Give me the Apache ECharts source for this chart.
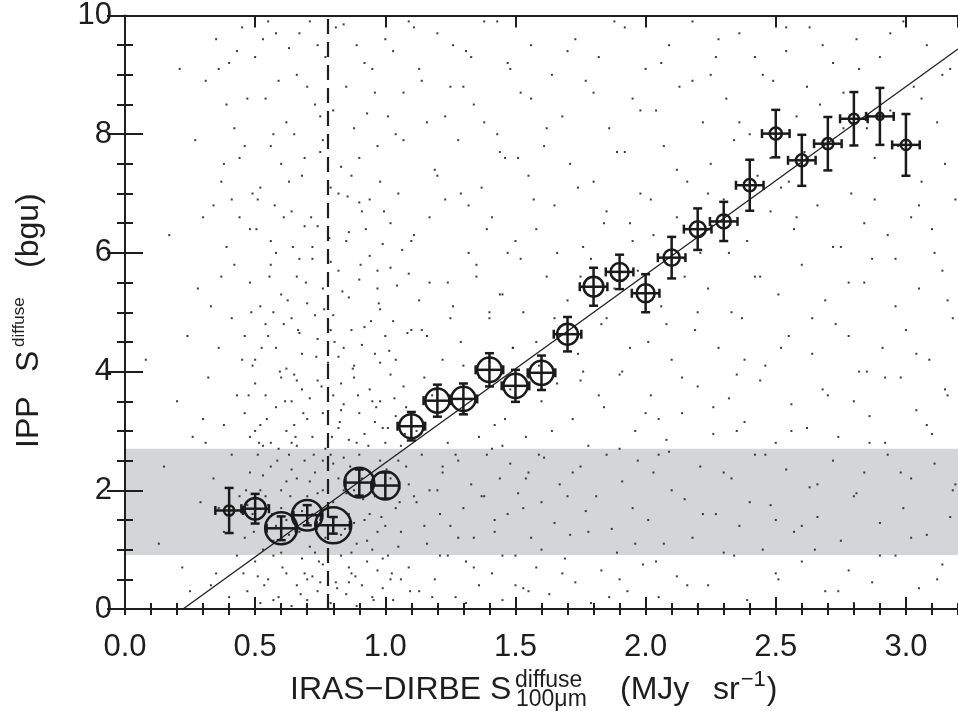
<!DOCTYPE html>
<html><head><meta charset="utf-8">
<script src="https://cdn.jsdelivr.net/npm/echarts@6/dist/echarts.min.js"></script>
<style>html,body{margin:0;padding:0;background:#fff}#c{width:958px;height:711px}</style>
</head><body><div id="c"></div>
<script>
// ---- binned points (x bin centre, mean IPP value, errors, relative weight of bin) ----
const binX = [0.4,0.5,0.6,0.7,0.8,0.9,1.0,1.1,1.2,1.3,1.4,1.5,1.6,1.7,1.8,1.9,2.0,2.1,2.2,2.3,2.4,2.5,2.6,2.7,2.8,2.9,3.0];
const binY = [1.66,1.69,1.36,1.58,1.41,2.13,2.08,3.08,3.51,3.54,4.03,3.76,3.98,4.63,5.43,5.68,5.32,5.92,6.40,6.53,7.14,8.01,7.56,7.84,8.26,8.30,7.82];
const binYErr = [0.38,0.25,0.20,0.17,0.14,0.22,0.22,0.24,0.27,0.26,0.28,0.27,0.29,0.29,0.32,0.29,0.32,0.35,0.35,0.33,0.43,0.40,0.43,0.45,0.45,0.48,0.52];
const binXErr = [0.053,0.053,0.056,0.053,0.064,0.053,0.053,0.053,0.053,0.053,0.053,0.053,0.053,0.053,0.053,0.053,0.053,0.053,0.053,0.053,0.053,0.053,0.053,0.053,0.053,0.053,0.053];
const binWeight = [0.28,0.6,0.89,0.85,1.0,0.83,0.78,0.67,0.67,0.67,0.68,0.67,0.67,0.58,0.55,0.5,0.5,0.45,0.44,0.39,0.34,0.34,0.33,0.31,0.28,0.2,0.28];

// ---- fit line, threshold, shaded band ----
const fitSlope = 3.17;
const fitIntercept = -0.707;
const threshX = 0.78;
const bandLow = 0.91;
const bandHigh = 2.70;

// ---- axis ticks ----
const xTicks = [0.0,0.5,1.0,1.5,2.0,2.5,3.0];
const yTicks = [0,2,4,6,8,10];

// ---- individual pixels (estimated positions of the background dots) ----
const bgDots = [
[0.08,4.2],[0.13,1.1],[0.17,6.3],[0.2,3.5],[0.22,0.7],[0.24,4.6],[0.26,2.9],[0.27,7.9],[0.28,5.4],[0.29,1.8],[0.21,9.1],[0.3,3.2],[0.15,2.4],[0.25,0.3],[0.3,6.6],
[0.31,8.9],[0.33,5.1],[0.34,2.2],[0.35,9.6],[0.35,0.6],[0.36,4.4],[0.37,7.2],[0.38,3.1],[0.38,1.3],[0.39,6.1],[0.4,9.2],[0.4,0.2],[0.41,4.9],[0.41,2.6],[0.42,8.1],[0.42,5.8],[0.43,3.6],[0.43,0.9],[0.44,7.6],[0.44,1.9],[0.45,9.8],[0.45,4.2],[0.32,3.9],[0.34,6.8],[0.36,1.7],[0.39,8.5],[0.37,5.6],[0.33,0.4],[0.44,6.6],[0.31,2.8],
[0.47,0.3],[0.5,0.8],[0.52,0.1],[0.55,0.5],[0.57,0.9],[0.59,0.2],[0.62,0.6],[0.64,0.05],[0.66,0.4],[0.68,0.85],[0.7,0.15],[0.72,0.55],[0.74,0.3],[0.76,0.75],[0.79,0.1],[0.81,0.45],[0.83,0.9],[0.85,0.25],[0.87,0.6],[0.89,0.05],[0.91,0.4],[0.93,0.8],[0.95,0.2],[0.97,0.65],[0.99,0.35],[1.01,0.9],[1.03,0.15],[0.6,0.95],[0.73,0.95],[0.86,0.7],
[0.46,1.2],[0.48,2.3],[0.49,1.6],[0.51,2.6],[0.53,1.0],[0.54,1.9],[0.56,2.4],[0.58,1.4],[0.6,2.0],[0.61,1.1],[0.63,2.6],[0.65,1.7],[0.66,2.2],[0.67,1.3],[0.69,2.5],[0.7,1.9],[0.71,1.05],[0.73,2.3],[0.75,1.5],[0.76,2.0],[0.77,1.2],[0.79,2.6],[0.8,1.8],[0.82,2.2],[0.83,1.25],[0.84,2.55],[0.86,1.6],[0.88,2.0],[0.89,1.1],[0.9,2.6],[0.92,1.5],[0.94,2.3],[0.95,1.0],[0.96,1.9],[0.98,2.5],[1.0,1.4],[1.02,2.2],[1.04,1.7],[0.52,2.0],[0.57,1.15],[0.62,1.5],[0.68,1.65],[0.74,1.95],[0.78,2.35],[0.85,1.95],[0.91,2.2],[0.97,1.3],[1.05,2.5],[0.55,1.75],[0.64,2.35],
[0.46,3.3],[0.48,2.9],[0.5,3.8],[0.52,3.1],[0.54,3.6],[0.56,2.8],[0.58,3.4],[0.6,3.9],[0.62,3.0],[0.64,3.5],[0.66,2.75],[0.68,3.7],[0.7,3.2],[0.72,2.9],[0.74,3.85],[0.76,3.3],[0.78,2.8],[0.8,3.6],[0.82,3.05],[0.84,3.45],[0.86,2.85],[0.88,3.9],[0.9,3.3],[0.92,2.95],[0.94,3.7],[0.96,3.15],[0.98,3.5],[1.0,2.8],[1.02,3.95],[1.04,3.25],[0.53,2.75],[0.65,3.95],[0.71,3.55],[0.83,3.8],[0.99,3.05],
[0.46,4.6],[0.48,5.5],[0.5,4.2],[0.52,5.1],[0.54,4.8],[0.56,5.8],[0.58,4.4],[0.6,5.3],[0.62,4.05],[0.64,4.9],[0.66,5.6],[0.68,4.3],[0.7,5.15],[0.72,5.9],[0.74,4.55],[0.76,5.4],[0.78,4.15],[0.8,4.95],[0.82,5.7],[0.84,4.4],[0.86,5.25],[0.88,4.1],[0.9,5.55],[0.92,4.75],[0.94,5.95],[0.96,4.3],[0.98,5.05],[1.0,4.6],[1.02,5.75],[1.04,4.2],[0.57,5.0],[0.67,4.65],[0.79,5.85],[0.87,4.7],[0.97,5.4],
[0.46,7.8],[0.48,6.4],[0.5,9.3],[0.52,7.1],[0.54,8.6],[0.56,6.2],[0.58,9.7],[0.6,7.5],[0.62,8.2],[0.64,6.7],[0.66,9.0],[0.68,7.3],[0.7,8.8],[0.72,6.1],[0.74,9.5],[0.76,7.9],[0.78,6.6],[0.8,8.4],[0.82,7.0],[0.84,9.85],[0.86,6.35],[0.88,8.1],[0.9,7.6],[0.92,9.2],[0.94,6.9],[0.96,8.7],[0.98,7.2],[1.0,9.6],[1.02,6.5],[1.04,8.0],[0.51,6.9],[0.55,9.9],[0.63,9.45],[0.69,6.45],[0.75,8.3],[0.83,7.45],[0.93,8.35],[0.99,6.15],[0.57,8.0],[0.71,9.9],
[1.06,0.5],[1.08,3.4],[1.1,6.2],[1.12,1.8],[1.14,8.9],[1.16,4.6],[1.18,0.2],[1.2,7.3],[1.22,2.4],[1.24,5.5],[1.26,9.5],[1.28,1.2],[1.3,4.1],[1.32,6.8],[1.34,0.7],[1.36,2.9],[1.38,8.2],[1.4,5.0],[1.42,1.5],[1.44,7.7],[1.46,3.2],[1.48,9.1],[1.5,0.4],[1.52,5.9],[1.54,2.2],[1.56,8.6],[1.58,4.5],[1.6,1.0],[1.07,7.9],[1.09,2.1],[1.11,9.8],[1.13,5.2],[1.15,1.4],[1.17,6.6],[1.19,3.7],[1.21,0.9],[1.23,8.3],[1.25,4.9],[1.27,2.6],[1.29,7.0],[1.31,0.1],[1.33,9.3],[1.35,5.6],[1.37,1.9],[1.39,6.4],[1.41,2.7],[1.43,9.9],[1.45,0.9],[1.47,6.0],[1.49,4.4],[1.51,7.6],[1.53,1.7],[1.55,3.9],[1.57,6.9],[1.59,2.6],[1.1,4.7],[1.2,2.0],[1.3,8.8],[1.45,5.3],[1.55,0.3],
[1.62,8.1],[1.64,3.0],[1.66,6.0],[1.68,0.6],[1.7,9.4],[1.72,2.3],[1.74,7.1],[1.76,4.0],[1.78,1.3],[1.8,8.7],[1.82,3.6],[1.84,6.5],[1.86,0.2],[1.88,9.9],[1.9,2.7],[1.92,7.7],[1.94,4.4],[1.96,1.1],[1.98,8.4],[2.0,3.3],[2.02,6.9],[2.04,0.8],[2.06,9.2],[2.08,4.8],[2.1,2.0],[2.12,7.4],[2.14,3.9],[2.16,0.4],[2.18,8.9],[2.2,5.0],[2.22,1.6],[2.24,7.0],[2.26,3.4],[2.28,9.6],[2.3,2.3],[2.32,6.0],[2.34,0.9],[2.36,8.2],[2.38,4.2],[2.4,1.8],[1.65,4.9],[1.75,5.6],[1.85,4.9],[1.95,6.2],[2.05,2.6],[2.15,5.6],[2.25,9.0],[2.35,3.0],[1.7,1.9],[1.9,0.5],
[2.42,9.3],[2.44,5.6],[2.46,2.6],[2.48,7.6],[2.5,0.6],[2.52,4.4],[2.54,9.8],[2.56,3.0],[2.58,6.6],[2.6,1.4],[2.62,8.8],[2.64,4.9],[2.66,2.1],[2.68,9.5],[2.7,3.6],[2.72,6.1],[2.74,0.3],[2.76,8.1],[2.78,4.6],[2.8,1.9],[2.82,9.1],[2.84,5.5],[2.86,2.8],[2.88,6.9],[2.9,0.9],[2.92,3.9],[2.94,9.7],[2.96,5.9],[2.98,2.3],[3.0,7.3],[3.02,1.2],[3.04,4.3],[3.06,8.6],[3.08,3.1],[3.1,6.4],[3.12,0.5],[3.14,9.0],[3.16,5.2],[3.18,2.0],[3.05,6.8],[2.55,7.2],[2.65,1.0],[2.85,4.0],[2.95,8.3],[3.15,3.7],
[1.11,6.3],[1.13,9.1],[1.14,4.7],[1.16,8.2],[1.17,5.5],[1.19,7.4],[1.2,9.7],[1.22,4.2],[1.23,6.9],[1.25,8.8],[1.26,5.1],[1.28,7.9],[1.29,4.5],[1.31,9.4],[1.32,6.0],[1.34,8.5],[1.35,5.8],[1.37,7.1],[1.38,9.9],[1.4,4.9],[1.41,6.6],[1.43,8.0],[1.44,5.3],[1.46,7.6],[1.47,9.2],[1.49,4.4],[1.5,6.2],[1.52,8.7],[1.53,5.0],[1.55,7.3],
[1.56,9.5],[1.58,6.4],[1.59,4.1],[1.61,7.8],[1.62,5.6],[1.64,9.0],[1.65,6.8],[1.67,4.6],[1.68,8.3],[1.7,5.2],[1.71,7.5],[1.73,9.6],[1.74,4.3],[1.76,6.1],[1.77,8.9],[1.79,5.9],[1.8,7.2],[1.82,9.3],[1.83,4.8],[1.85,6.7],[1.86,8.1],[1.88,5.4],[1.89,7.7],[1.91,4.0],[1.92,9.8],[1.94,6.5],[1.95,8.6],[1.97,5.7],[1.98,7.0],[2.0,9.1],
[2.01,4.5],[2.03,6.3],[2.04,8.4],[2.06,5.1],[2.07,7.8],[2.09,9.5],[2.1,4.2],[2.12,6.6],[2.13,8.8],[2.15,5.9],[2.16,7.2],[2.18,9.9],[2.19,4.7],[2.21,6.0],[2.22,8.2],[2.24,5.4],[2.25,7.5],[2.27,9.3],[2.28,4.4],[2.3,6.9],[2.31,8.6],[2.33,5.0],[2.34,7.9],[2.36,9.7],[2.37,4.9],[2.39,6.2],[2.4,8.0],[2.42,5.6],[2.43,7.3],[2.45,9.0],
[2.46,4.1],[2.48,6.7],[2.49,8.9],[2.51,5.3],[2.52,7.1],[2.54,9.4],[2.55,4.6],[2.57,6.4],[2.58,8.3],[2.6,5.8],[2.61,7.7],[2.63,9.8],[2.64,4.3],[2.66,6.8],[2.67,8.5],[2.69,5.2],[2.7,7.4],[2.72,9.2],[2.73,4.8],[2.75,6.1],[2.76,8.7],[2.78,5.5],[2.79,7.0],[2.81,9.6],[2.82,4.0],[2.84,6.5],[2.85,8.1],[2.87,5.9],[2.88,7.6],[2.9,9.3],
[2.91,4.4],[2.93,6.3],[2.94,8.4],[2.96,5.1],[2.97,7.8],[2.99,9.9],[3.0,4.7],[3.02,6.6],[3.03,8.8],[3.05,5.4],[3.06,7.2],[3.08,9.5],[3.09,4.2],[3.11,6.0],[3.12,8.2],[3.14,5.7],[3.15,7.5],[3.17,9.1],[3.18,4.9],[3.19,6.9],
[1.12,3.0],[1.18,3.6],[1.24,2.8],[1.3,3.3],[1.36,3.9],[1.42,3.1],[1.48,3.7],[1.54,2.9],[1.6,3.5],[1.66,3.8],[1.72,3.2],[1.78,2.75],[1.84,3.4],[1.9,3.95],[1.96,3.0],[2.02,3.6],[2.08,2.85],[2.14,3.3],[2.2,3.75],[2.26,2.95],[2.32,3.55],[2.38,3.15],[2.44,3.85],[2.5,2.8],[2.56,3.45],[2.62,3.05],[2.68,3.7],[2.74,2.9],[2.8,3.5],[2.86,3.25],[2.92,2.8],[2.98,3.9],[3.04,3.35],[3.1,2.95],[3.16,3.6],[1.15,3.9],[1.45,2.75],[1.75,3.85],[2.05,3.2],[2.35,3.95],
[1.06,1.3],[1.08,2.4],[1.09,0.7],[1.11,1.9],[1.13,0.3],[1.14,2.6],[1.16,1.1],[1.17,2.0],[1.19,0.5],[1.21,1.6],[1.22,2.3],[1.24,0.9],[1.25,1.4],[1.27,0.2],[1.28,2.5],[1.3,1.7],[1.31,0.8],[1.33,2.1],[1.34,1.2],[1.36,0.4],[1.38,1.9],[1.39,2.6],[1.41,0.6],[1.42,1.3],[1.44,2.2],[1.45,0.15],[1.47,1.6],[1.48,2.45],[1.5,0.9],[1.51,1.95],
[1.53,0.35],[1.55,2.3],[1.56,1.2],[1.58,0.7],[1.6,1.8],[1.61,2.55],[1.63,0.25],[1.65,1.45],[1.67,2.1],[1.69,0.85],[1.71,1.25],[1.73,0.45],[1.75,2.4],[1.77,1.65],[1.79,0.1],[1.81,1.9],[1.83,0.65],[1.85,2.6],[1.87,1.35],[1.89,0.95],[1.91,2.15],[1.93,0.3],[1.95,1.7],[1.97,2.5],[1.99,0.75],[2.01,1.5],[2.03,2.3],[2.05,0.2],[2.07,1.1],[2.09,2.65],
[2.12,0.55],[2.15,1.85],[2.18,1.2],[2.21,2.4],[2.24,0.4],[2.27,1.6],[2.3,0.95],[2.33,2.2],[2.36,1.4],[2.39,0.15],[2.42,2.6],[2.45,1.0],[2.48,1.75],[2.51,0.5],[2.54,2.35],[2.57,1.3],[2.6,0.8],[2.63,2.05],[2.66,1.55],[2.69,0.3],[2.72,2.5],[2.75,1.15],[2.78,0.65],[2.81,1.95],[2.84,2.3],[2.87,0.45],[2.9,1.45],[2.93,2.6],[2.96,0.9],[2.99,1.7],
[3.02,2.2],[3.05,0.35],[3.08,1.25],[3.11,2.45],[3.14,0.75],[3.17,1.55],[3.19,2.1],[2.2,0.05],[2.5,1.5],[2.8,0.1],
[0.455,0.6],[0.465,2.0],[0.475,3.6],[0.485,5.0],[0.495,1.3],[0.505,6.4],[0.515,2.8],[0.525,4.4],[0.535,0.4],[0.545,3.2],[0.555,5.6],[0.565,1.6],[0.575,6.8],[0.585,2.5],[0.595,4.0],[0.605,0.7],[0.615,3.5],[0.625,5.2],[0.635,1.9],[0.645,6.1],[0.655,2.9],[0.665,4.7],[0.675,0.25],[0.685,3.3],[0.695,5.5],[0.705,1.45],[0.715,6.6],[0.725,2.6],[0.735,4.25],[0.745,0.8],
[0.755,3.75],[0.765,5.05],[0.775,1.7],[0.785,6.25],[0.795,2.9],[0.805,4.5],[0.815,0.35],[0.825,3.15],[0.835,5.35],[0.845,1.35],[0.855,6.95],[0.865,2.4],[0.875,4.05],[0.885,0.55],[0.895,3.6],[0.905,5.8],[0.915,1.85],[0.925,6.4],[0.935,2.75],[0.945,4.85],[0.955,0.15],[0.965,3.4],[0.975,5.15],[0.985,1.55],[0.995,6.7],[1.005,2.35],[1.015,4.35],[1.025,0.6],[1.035,3.55],[1.045,5.45],
[1.055,1.8],[1.065,6.05],[1.075,2.95],[1.085,4.65],[1.095,0.3],[0.47,1.75],[0.49,4.1],[0.51,0.55],[0.53,2.25],[0.55,4.6],[0.57,0.15],[0.59,2.7],[0.61,4.8],[0.63,1.25],[0.65,3.1],[0.67,5.9],[0.69,0.6],[0.71,2.15],[0.73,4.95],[0.75,0.45],[0.77,2.7],[0.79,4.7],[0.81,1.55],[0.83,3.35],[0.85,6.2],[0.87,0.95],[0.89,2.8],[0.91,4.45],[0.93,1.15],[0.95,3.5],
[0.97,5.7],[0.99,0.85],[1.01,3.05],[1.03,4.85],[1.05,1.05],[1.07,3.75],[1.09,5.65],[0.5,3.0],[0.54,1.35],[0.58,6.0],[0.62,2.15],[0.66,3.85],[0.7,0.5],[0.74,6.45],[0.78,1.55],[0.82,4.25],[0.86,0.45],[0.9,6.85],[0.94,1.6],[0.98,4.15],[1.02,0.5],[1.06,2.75],[0.6,1.7],[0.72,1.6],[0.8,2.45],[0.88,1.45],[0.96,2.1],[0.64,2.8],[0.76,2.5],[0.84,2.0],
[0.36,9.1],[0.38,7.5],[0.41,6.9],[0.43,9.4],[0.47,8.6],[0.49,7.0],[0.53,9.6],[0.56,7.8],[0.59,8.9],[0.61,6.6],[0.65,8.0],[0.67,9.7],[0.69,7.6],[0.73,8.5],[0.77,9.3],[0.79,7.1],[0.81,9.8],[0.85,8.8],[0.87,7.3],[0.89,9.5],[0.91,6.7],[0.95,9.1],[0.97,7.8],[1.01,8.3],[1.03,9.4],[1.05,7.0],[1.07,8.7],[1.09,9.9],[0.63,7.2],[0.75,7.7]
];

const X_MIN = 0, X_MAX = 3.2, Y_MIN = 0, Y_MAX = 10;
const FONT = '"Liberation Sans", Arial, sans-serif';
const INK = '#1e1e1e';

const chart = echarts.init(document.getElementById('c'), null, {renderer: 'canvas'});

const ctx = document.createElement('canvas').getContext('2d');
function tw(t, s) { ctx.font = s + 'px ' + FONT; return ctx.measureText(t).width; }

function txt(t, x, y, s) {
  return {
    type: 'text', x: x, y: y, silent: true,
    style: { text: t, font: s + 'px ' + FONT, fill: INK, textAlign: 'left', textVerticalAlign: 'middle', verticalAlign: 'middle' }
  };
}

// x title pieces (left edges taken from the reference layout)
const xt = [
  txt('IRAS\u2212DIRBE S', 290, 690, 32),
  txt('diffuse', 515, 681, 23),
  txt('100\u03bcm', 516, 700, 23),
  txt('(MJy', 620, 690, 32),
  txt('sr', 713, 690, 32)
];
let px2 = 713 + tw('sr', 32) + 1;
xt.push(txt('\u22121', px2, 680, 22));
px2 += tw('\u22121', 22) + 1;
xt.push(txt(')', px2, 690, 32));

// y title pieces (local coords along the reading direction, from the bottom)
const yt = [
  txt('IPP', 0, 0, 32),
  txt('S', 76, 0, 32),
  txt('diffuse', 101, -10, 17),
  txt('(bgu)', 180, 0, 32)
];

const tickStyle = { color: INK, width: 2 };

const xMajorBase = {
  type: 'value', min: X_MIN, max: X_MAX, interval: 0.5,
  axisLine: { show: true, onZero: false, lineStyle: { color: INK, width: 2 } },
  axisTick: { show: true, inside: true, length: 12, lineStyle: tickStyle },
  splitLine: { show: false }
};
const xMinorBase = {
  type: 'value', min: X_MIN, max: X_MAX, interval: 0.1,
  axisLine: { show: false },
  axisTick: { show: true, inside: true, length: 6, lineStyle: tickStyle },
  axisLabel: { show: false },
  splitLine: { show: false }
};
const yBase = {
  type: 'value', min: Y_MIN, max: Y_MAX, interval: 2,
  axisLine: { show: true, onZero: false, lineStyle: { color: INK, width: 2 } },
  axisTick: { show: true, inside: true, length: 18, lineStyle: tickStyle },
  minorTick: { show: true, splitNumber: 4, length: 8, lineStyle: tickStyle },
  splitLine: { show: false },
  minorSplitLine: { show: false }
};

const option = {
  backgroundColor: '#ffffff',
  animation: false,
  grid: { left: 125, top: 15, width: 836, height: 594, containLabel: false },
  xAxis: [
    Object.assign({}, xMajorBase, { position: 'bottom',
      axisLabel: { show: true, fontSize: 31, fontFamily: FONT, color: INK, margin: 23, showMaxLabel: false,
        formatter: v => (xTicks.some(t => Math.abs(t - v) < 1e-9) ? v.toFixed(1) : '') } }),
    Object.assign({}, xMinorBase, { position: 'bottom' }),
    Object.assign({}, xMajorBase, { position: 'top', axisLabel: { show: false } }),
    Object.assign({}, xMinorBase, { position: 'top' })
  ],
  yAxis: [
    Object.assign({}, yBase, { position: 'left',
      axisLabel: { show: true, fontSize: 31, fontFamily: FONT, color: INK, margin: 13,
        formatter: v => (yTicks.indexOf(v) >= 0 ? String(v) : '') } }),
    Object.assign({}, yBase, { position: 'right', axisLine: { show: false }, axisLabel: { show: false } })
  ],
  graphic: [
    { type: 'group', children: xt },
    { type: 'group', x: 29, y: 448, rotation: Math.PI / 2, children: yt }
  ],
  series: [
    {
      type: 'custom', name: 'band', z: 0, silent: true, clip: true,
      data: [[X_MIN, bandLow, bandHigh]],
      encode: { x: 0, y: [1, 2] },
      renderItem: function (params, api) {
        const cs = params.coordSys;
        const top = api.coord([X_MIN, api.value(2)])[1];
        const bot = api.coord([X_MIN, api.value(1)])[1];
        return { type: 'rect', shape: { x: cs.x, y: top, width: cs.width, height: bot - top },
          style: { fill: '#d4d5d8' } };
      }
    },
    {
      type: 'scatter', name: 'pixels', z: 2, silent: true,
      data: bgDots, symbol: 'rect', symbolSize: 2,
      itemStyle: { color: '#262626', opacity: 0.9 }
    },
    {
      type: 'line', name: 'fit', z: 3, silent: true, clip: true,
      data: [[-fitIntercept / fitSlope, 0], [X_MAX, fitIntercept + fitSlope * X_MAX]],
      showSymbol: false, symbol: 'none',
      lineStyle: { color: INK, width: 1.3 },
      markLine: {
        silent: true, symbol: ['none', 'none'], label: { show: false },
        lineStyle: { color: INK, width: 2.2, type: [15, 8] },
        data: [{ xAxis: threshX }]
      }
    },
    {
      type: 'custom', name: 'bins', z: 5, silent: true, clip: false,
      data: binX.map((x, i) => [x, binY[i], binXErr[i], binYErr[i], binWeight[i]]),
      encode: { x: 0, y: 1 },
      renderItem: function (params, api) {
        const x = api.value(0), y = api.value(1), xe = api.value(2), ye = api.value(3), w = api.value(4);
        const c = api.coord([x, y]);
        const L = api.coord([x - xe, y]), R = api.coord([x + xe, y]);
        const T = api.coord([x, y + ye]), B = api.coord([x, y - ye]);
        const cap = 4.5, r = w * 18;
        const st = { stroke: '#1a1a1a', lineWidth: 2.5, fill: 'none' };
        const ln = (x1, y1, x2, y2) => ({ type: 'line', shape: { x1, y1, x2, y2 }, style: st });
        return { type: 'group', children: [
          ln(L[0], c[1], R[0], c[1]),
          ln(L[0], c[1] - cap, L[0], c[1] + cap),
          ln(R[0], c[1] - cap, R[0], c[1] + cap),
          ln(c[0], T[1], c[0], B[1]),
          ln(c[0] - cap, T[1], c[0] + cap, T[1]),
          ln(c[0] - cap, B[1], c[0] + cap, B[1]),
          { type: 'circle', shape: { cx: c[0], cy: c[1], r: r }, style: st }
        ] };
      }
    }
  ]
};
chart.setOption(option);
</script>
</body></html>
